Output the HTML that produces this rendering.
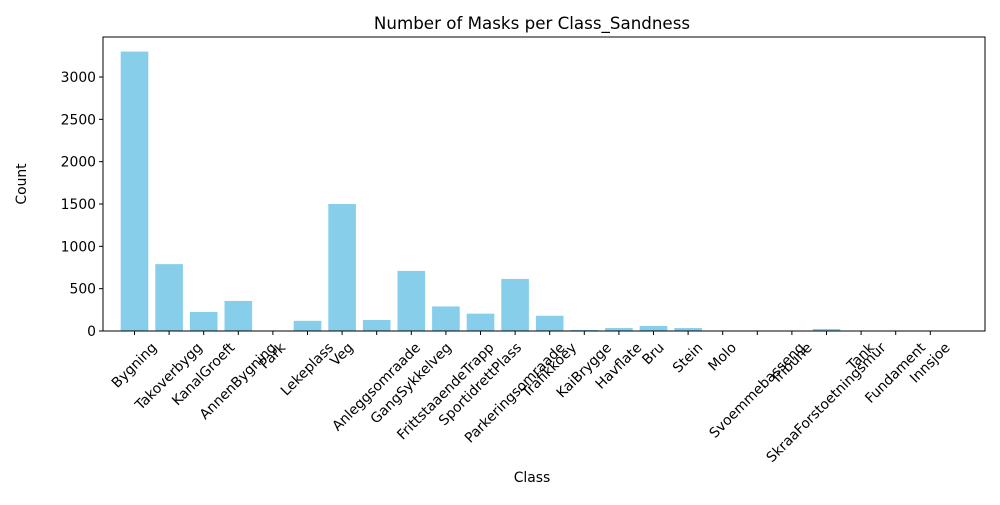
<!DOCTYPE html>
<html><head><meta charset="utf-8"><style>body{margin:0;background:#fff}svg{font-family:"DejaVu Sans","Liberation Sans",sans-serif}</style></head>
<body>
<svg id="chart" width="1000" height="500">
<rect width="1000" height="500" fill="#fff"/>
<text x="532" y="29" font-size="16.7" text-anchor="middle">Number of Masks per Class_Sandness</text>
<text x="532" y="482" font-size="13.9" text-anchor="middle">Class</text>
<text transform="translate(26,184) rotate(-90)" font-size="13.9" text-anchor="middle">Count</text>
<g id="bars"></g><g id="xt"></g><g id="yt"></g>
<rect x="103" y="37" width="882" height="294" fill="none" stroke="#000" stroke-width="1"/>
</svg>
<script>
const categories=["Bygning","Takoverbygg","KanalGroeft","AnnenBygning","Park","Lekeplass","Veg","Anleggsomraade","GangSykkelveg","FrittstaaendeTrapp","SportidrettPlass","Parkeringsomraade","Trafikkoey","KaiBrygge","Havflate","Bru","Stein","Molo","Svoemmebasseng","Tribune","SkraaForstoetningsmur","Tank","Fundament","Innsjoe"];
const counts=[3300,790,225,355,2,120,1500,130,710,290,205,615,180,12,35,60,35,1,1,1,24,1,1,1];
const yTicks=[0,500,1000,1500,2000,2500,3000];
const NS="http://www.w3.org/2000/svg";
const x0=134.5,step=34.6,bw=27.6;
function xPos(i){return x0+i*step;}
function yPos(v){return 331-v*254/3000;}
function mk(t,a,p){const e=document.createElementNS(NS,t);for(const k in a)e.setAttribute(k,a[k]);p.appendChild(e);return e;}
const bars=document.getElementById('bars'),xt=document.getElementById('xt'),yt=document.getElementById('yt');
categories.forEach((c,i)=>{
 const r=mk('rect',{x:xPos(i)-bw/2,y:yPos(counts[i]),width:bw,height:331-yPos(counts[i]),fill:'#87ceeb'},bars);
 
 
 mk('line',{x1:xPos(i),x2:xPos(i),y1:331,y2:335,stroke:'#000'},xt);
 const t=mk('text',{x:0,y:0,'font-size':13.9,'text-anchor':'middle','dominant-baseline':'central'},xt);
 t.textContent=c;
 
 
 const w=t.getComputedTextLength();
 const cy=341+(w+13)*0.7071/2;
 t.setAttribute('transform',`translate(${xPos(i)},${cy}) rotate(-45)`);
});
yTicks.forEach(v=>{
 mk('line',{x1:99,x2:103,y1:yPos(v),y2:yPos(v),stroke:'#000'},yt);
 const t=mk('text',{x:96,y:yPos(v)+5,'font-size':13.9,'text-anchor':'end'},yt);
 t.textContent=v;
 
 
});
</script>
</body></html>
